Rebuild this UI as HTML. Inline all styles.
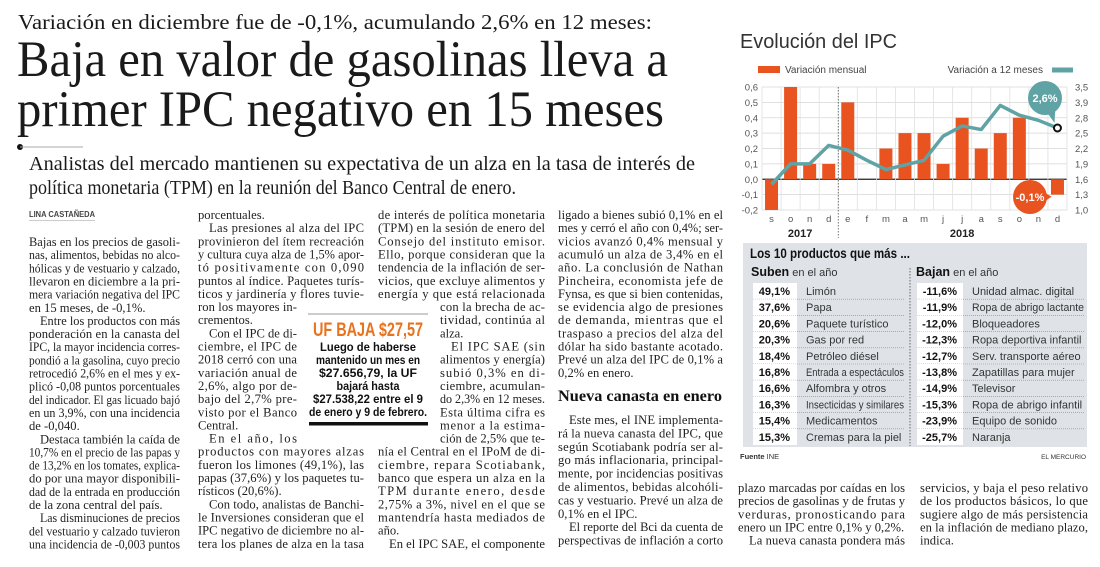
<!DOCTYPE html>
<html><head><meta charset="utf-8">
<style>
html,body{margin:0;padding:0;background:#fff;}
svg{display:block;}
.body{font-family:"Liberation Serif",serif;font-size:12.6px;fill:#222;}
.sans{font-family:"Liberation Sans",sans-serif;}
</style></head>
<body>
<svg id="page" width="1100" height="567" viewBox="0 0 1100 567" xmlns="http://www.w3.org/2000/svg">
<rect width="1100" height="567" fill="#fff"/>
<g font-family="Liberation Serif, serif" fill="#1a1a1a">
<text x="18" y="29" font-size="21" textLength="634" lengthAdjust="spacingAndGlyphs">Variación en diciembre fue de -0,1%, acumulando 2,6% en 12 meses:</text>
<text x="17" y="76" font-size="51" textLength="651" lengthAdjust="spacingAndGlyphs">Baja en valor de gasolinas lleva a</text>
<text x="17" y="126" font-size="51" textLength="647" lengthAdjust="spacingAndGlyphs">primer IPC negativo en 15 meses</text>
<circle cx="20" cy="147" r="3" fill="#111"/>
<line x1="20" y1="147" x2="83" y2="147" stroke="#aaa" stroke-width="1"/>
<text x="29" y="170" font-size="19.5" textLength="666" lengthAdjust="spacingAndGlyphs">Analistas del mercado mantienen su expectativa de un alza en la tasa de interés de</text>
<text x="29" y="194" font-size="19.5" textLength="487" lengthAdjust="spacingAndGlyphs">política monetaria (TPM) en la reunión del Banco Central de enero.</text>
<text x="29" y="217" font-family="Liberation Sans, sans-serif" font-size="8.5" font-weight="bold" fill="#444" textLength="66" lengthAdjust="spacingAndGlyphs">LINA CASTAÑEDA</text>
<line x1="29" y1="220.5" x2="95" y2="220.5" stroke="#bbb" stroke-width="0.8"/>
</g>
<g id="bodytext"></g>

<g>
<line x1="308" y1="314" x2="428" y2="314" stroke="#999" stroke-width="1"/>
<text x="313" y="336" font-family="Liberation Sans, sans-serif" font-weight="bold" font-size="19" fill="#e8731f" textLength="110" lengthAdjust="spacingAndGlyphs">UF BAJA $27,57</text>
<g font-family="Liberation Sans, sans-serif" font-weight="bold" font-size="11.5" fill="#111" text-anchor="middle">
<text x="368" y="351" textLength="96" lengthAdjust="spacingAndGlyphs">Luego de haberse</text>
<text x="368" y="364" textLength="104" lengthAdjust="spacingAndGlyphs">mantenido un mes en</text>
<text x="368" y="377" textLength="98" lengthAdjust="spacingAndGlyphs">$27.656,79, la UF</text>
<text x="368" y="390" textLength="63" lengthAdjust="spacingAndGlyphs">bajará hasta</text>
<text x="368" y="403" textLength="110" lengthAdjust="spacingAndGlyphs">$27.538,22 entre el 9</text>
<text x="368" y="416" textLength="118" lengthAdjust="spacingAndGlyphs">de enero y 9 de febrero.</text>
</g>
<rect x="309" y="422" width="119" height="3.5" fill="#111"/>
</g>

<text x="558" y="401" font-family="Liberation Serif, serif" font-weight="bold" font-size="16" fill="#111" textLength="164" lengthAdjust="spacingAndGlyphs">Nueva canasta en enero</text>

<!-- CHART -->
<g id="chart">
<text x="740" y="48" font-family="Liberation Sans, sans-serif" font-size="20" fill="#333" textLength="157" lengthAdjust="spacingAndGlyphs">Evolución del IPC</text>
<g font-family="Liberation Sans, sans-serif" font-size="10" fill="#444">
<rect x="758" y="66" width="22" height="7" fill="#e8531f"/>
<text x="785" y="73">Variación mensual</text>
<text x="1043" y="73" text-anchor="end">Variación a 12 meses</text>
<line x1="1052" y1="70" x2="1073" y2="70" stroke="#5fa3a5" stroke-width="5"/>
</g>
<g id="grid"></g>
<g id="bars"></g>
<g id="line"></g>
<g id="axes" font-family="Liberation Sans, sans-serif" font-size="9.5" fill="#555"></g>
<g id="bubbles"></g>
</g>

<!-- TABLE -->
<g id="table">
<rect x="743" y="243" width="344" height="204" fill="#dfe3e8"/>
<text x="750" y="258" font-family="Liberation Sans, sans-serif" font-weight="bold" font-size="13.5" fill="#111" textLength="160" lengthAdjust="spacingAndGlyphs">Los 10 productos que más ...</text>
<text x="751" y="276" font-family="Liberation Sans, sans-serif" font-size="11" fill="#333"><tspan font-weight="bold" font-size="12.5" fill="#111">Suben</tspan> en el año</text>
<text x="916" y="276" font-family="Liberation Sans, sans-serif" font-size="11" fill="#333"><tspan font-weight="bold" font-size="12.5" fill="#111">Bajan</tspan> en el año</text>
<line x1="910" y1="268" x2="910" y2="446" stroke="#666" stroke-width="1" stroke-dasharray="1.5,1.5"/>
<g id="rows" font-family="Liberation Sans, sans-serif" font-size="11" fill="#222"></g>
<text x="740" y="459" font-family="Liberation Sans, sans-serif" font-size="7.5" fill="#333"><tspan font-weight="bold">Fuente</tspan> INE</text>
<text x="1086" y="459" text-anchor="end" font-family="Liberation Sans, sans-serif" font-size="6.5" fill="#333">EL MERCURIO</text>
</g>
</svg>

<script>
// ---- chart data ----
var months = ["s","o","n","d","e","f","m","a","m","j","j","a","s","o","n","d"];
var yearLabels = ["2017","2018"];
var monthlyChange = [-0.2,0.6,0.1,0.1,0.5,0.0,0.2,0.3,0.3,0.1,0.4,0.2,0.3,0.4,0.0,-0.1];
var annualChange = [1.5,1.9,1.9,2.26,2.17,1.97,1.79,1.88,1.97,2.44,2.64,2.57,3.04,2.85,2.75,2.6];
var leftTicks = [-0.2,-0.1,0.0,0.1,0.2,0.3,0.4,0.5,0.6];
var leftTickLabels = ["-0,2","-0,1","0,0","0,1","0,2","0,3","0,4","0,5","0,6"];
var rightTicks = [1.0,1.3,1.6,1.9,2.2,2.5,2.8,3.1,3.4];
var rightTickLabels = ["1,0","1,3","1,6","1,9","2,2","2,5","2,8","3,9","3,5"];
var lastAnnualLabel = "2,6%";
var lastMonthlyLabel = "-0,1%";

var NS="http://www.w3.org/2000/svg";
function mk(tag, attrs, parent){var e=document.createElementNS(NS,tag);for(var k in attrs)e.setAttribute(k,attrs[k]);parent.appendChild(e);return e;}
var PL=762, PR=1067, PT=87, PB=210;
var colW=(PR-PL)/months.length;
function xC(i){return PL+(i+0.5)*colW;}
function yL(v){return PT+(0.6-v)/0.8*(PB-PT);}
function yR(v){return PB-(v-1.0)/2.4*(PB-PT);}

var grid=document.getElementById('grid');
leftTicks.forEach(function(t){
  var l=mk('line',{x1:PL,x2:PR,y1:yL(t),y2:yL(t),stroke:t===0?'#222':'#d6d6d6','stroke-width':t===0?1.2:0.8},grid);
  
  
});
for(var i=0;i<=months.length;i++){
  var gl=mk('line',{x1:PL+i*colW,x2:PL+i*colW,y1:PT,y2:PB,stroke:'#e0e0e0','stroke-width':0.8},grid);
  
  
}
var dv=mk('line',{x1:PL+4*colW,x2:PL+4*colW,y1:PT,y2:PB+28,stroke:'#555','stroke-width':0.8,'stroke-dasharray':'1.5,1.5'},grid);



var bars=document.getElementById('bars');
monthlyChange.forEach(function(v,i){
  var y0=yL(0), y1=yL(v);
  var r=mk('rect',{x:xC(i)-6.5,width:13,y:Math.min(y0,y1),height:Math.abs(y1-y0),fill:'#e8531f'},bars);
  
  
});
var lineG=document.getElementById('line');
var pts=annualChange.map(function(v,i){return xC(i)+','+yR(v);}).join(' ');
var pl=mk('polyline',{points:pts,fill:'none',stroke:'#5fa3a5','stroke-width':3.5,'stroke-linejoin':'round'},lineG);


var li=annualChange.length-1;
var lp=mk('circle',{cx:xC(li),cy:yR(annualChange[li]),r:3.5,fill:'#fff',stroke:'#111','stroke-width':2},lineG);



var axes=document.getElementById('axes');
leftTicks.forEach(function(t,i){
  var tx=mk('text',{x:PL-4,y:yL(t)+3.5,'text-anchor':'end'},axes);tx.textContent=leftTickLabels[i];
  
  
});
rightTicks.forEach(function(t,i){
  var tx=mk('text',{x:PR+8,y:yR(t)+3.5},axes);tx.textContent=rightTickLabels[i];
  
  
});
months.forEach(function(m,i){
  var tx=mk('text',{x:xC(i),y:PB+12,'text-anchor':'middle'},axes);tx.textContent=m;
  
  
});
[[1.5,0],[10,1]].forEach(function(p){
  var tx=mk('text',{x:xC(p[0]),y:PB+27,'text-anchor':'middle','font-weight':'bold','font-size':'11',fill:'#222'},axes);
  tx.textContent=yearLabels[p[1]];
  
  
});
var bub=document.getElementById('bubbles');
var bx=xC(li), by=yR(annualChange[li]);
var t1=mk('path',{d:'M'+(bx-12)+','+(by-18)+' L'+(bx-3)+','+(by-5)+' L'+(bx-2)+','+(by-22)+' Z',fill:'#5fa3a5'},bub);


var c1=mk('circle',{cx:1045,cy:98,r:17,fill:'#5fa3a5'},bub);


var c1t=mk('text',{x:1045,y:102,'text-anchor':'middle','font-family':'Liberation Sans, sans-serif','font-weight':'bold','font-size':'11',fill:'#fff'},bub);
c1t.textContent=lastAnnualLabel;


var mx=xC(li), my=yL(monthlyChange[li]);
var t2=mk('path',{d:'M1040,190 L'+(mx-6)+','+(my+2)+' L1044,202 Z',fill:'#e8531f'},bub);


var c2=mk('circle',{cx:1030,cy:197,r:17,fill:'#e8531f'},bub);


var c2t=mk('text',{x:1030,y:201,'text-anchor':'middle','font-family':'Liberation Sans, sans-serif','font-weight':'bold','font-size':'11',fill:'#fff'},bub);
c2t.textContent=lastMonthlyLabel;



// ---- table data ----
var upValues=["49,1%","37,6%","20,6%","20,3%","18,4%","16,8%","16,6%","16,3%","15,4%","15,3%"];
var upNames=["Limón","Papa","Paquete turístico","Gas por red","Petróleo diésel","Entrada a espectáculos","Alfombra y otros","Insecticidas y similares","Medicamentos","Cremas para la piel"];
var downValues=["-11,6%","-11,9%","-12,0%","-12,3%","-12,7%","-13,8%","-14,9%","-15,3%","-23,9%","-25,7%"];
var downNames=["Unidad almac. digital","Ropa de abrigo lactante","Bloqueadores","Ropa deportiva infantil","Serv. transporte aéreo","Zapatillas para mujer","Televisor","Ropa de abrigo infantil","Equipo de sonido","Naranja"];
var rows=document.getElementById('rows');
var RT=283, RH=16.2;
for(var r=0;r<10;r++){
  var y=RT+r*RH;
  var w1=mk('rect',{x:753,y:y,width:44,height:RH,fill:'#fff'},rows);
  
  
  var w2=mk('rect',{x:917,y:y,width:46,height:RH,fill:'#fff'},rows);
  
  
  if(r<9){
    var s1=mk('line',{x1:753,x2:905,y1:y+RH,y2:y+RH,stroke:'#888','stroke-width':0.6,'stroke-dasharray':'1,1'},rows);
    
    
    var s2=mk('line',{x1:917,x2:1085,y1:y+RH,y2:y+RH,stroke:'#888','stroke-width':0.6,'stroke-dasharray':'1,1'},rows);
    
    
  }
  var a=mk('text',{x:790,y:y+12,'text-anchor':'end','font-weight':'bold',fill:'#111'},rows);a.textContent=upValues[r];
  
  
  var b=mk('text',{x:806,y:y+12,fill:'#333'},rows);b.textContent=upNames[r];
  
  
  var c=mk('text',{x:957,y:y+12,'text-anchor':'end','font-weight':'bold',fill:'#111'},rows);c.textContent=downValues[r];
  
  
  var d=mk('text',{x:972,y:y+12,fill:'#333'},rows);d.textContent=downNames[r];
  
  
}
// shrink long names to fit
Array.prototype.forEach.call(rows.querySelectorAll('text'),function(t){
  var max = t.getAttribute('x')==='806'?98:(t.getAttribute('x')==='972'?112:0);
  if(max && t.getComputedTextLength()>max){t.setAttribute('textLength',max);t.setAttribute('lengthAdjust','spacingAndGlyphs');}
});

// ---- body text ----
// "^" = paragraph indent, "|" at end = last line of paragraph (not justified)
var blocks=[
 {x:29,w:151,y0:246,lines:[
 "Bajas en los precios de gasoli-","nas, alimentos, bebidas no alco-","hólicas y de vestuario y calzado,","llevaron en diciembre a la pri-","mera variación negativa del IPC","en 15 meses, de -0,1%.|",
 "^Entre los productos con más","ponderación en la canasta del","IPC, la mayor incidencia corres-","pondió a la gasolina, cuyo precio","retrocedió 2,6% en el mes y ex-","plicó -0,08 puntos porcentuales","del indicador. El gas licuado bajó","en un 3,9%, con una incidencia","de -0,040.|",
 "^Destaca también la caída de","10,7% en el precio de las papas y","de 13,2% en los tomates, explica-","do por una mayor disponibili-","dad de la entrada en producción","de la zona central del país.|",
 "^Las disminuciones de precios","del vestuario y calzado tuvieron","una incidencia de -0,003 puntos"]},
 {x:198,w:166,y0:219,nar:[7,17],nx:198,nw:99,lines:[
 "porcentuales.|","^Las presiones al alza del IPC","provinieron del ítem recreación","y cultura cuya alza de 1,5% apor-","tó positivamente con 0,090","puntos al índice. Paquetes turís-","ticos y jardinería y flores tuvie-",
 "ron los mayores in-","crementos.|","^Con el IPC de di-","ciembre, el IPC de","2018 cerró con una","variación anual de","2,6%, algo por de-","bajo del 2,7% pre-","visto por el Banco","Central.|","^En el año, los",
 "productos con mayores alzas","fueron los limones (49,1%), las","papas (37,6%) y los paquetes tu-","rísticos (20,6%).|","^Con todo, analistas de Banchi-","le Inversiones consideran que el","IPC negativo de diciembre no al-","tera los planes de alza en la tasa"]},
 {x:378,w:167,y0:219,nar:[7,17],nx:440,nw:105,lines:[
 "de interés de política monetaria","(TPM) en la sesión de enero del","Consejo del instituto emisor.","Ello, porque consideran que la","tendencia de la inflación de ser-","vicios, que excluye alimentos y","energía y que está relacionada",
 "con la brecha de ac-","tividad, continúa al","alza.|","^El IPC SAE (sin","alimentos y energía)","subió 0,3% en di-","ciembre, acumulan-","do 2,3% en 12 meses.","Esta última cifra es","menor a la estima-","ción de 2,5% que te-",
 "nía el Central en el IPoM de di-","ciembre, repara Scotiabank,","banco que espera un alza en la","TPM durante enero, desde","2,75% a 3%, nivel en el que se","mantendría hasta mediados de","año.|","^En el IPC SAE, el componente"]},
 {x:558,w:165,y0:219,lines:[
 "ligado a bienes subió 0,1% en el","mes y cerró el año con 0,4%; ser-","vicios avanzó 0,4% mensual y","acumuló un alza de 3,4% en el","año. La conclusión de Nathan","Pincheira, economista jefe de","Fynsa, es que si bien contenidas,","se evidencia algo de presiones","de demanda, mientras que el","traspaso a precios del alza del","dólar ha sido bastante acotado.","Prevé un alza del IPC de 0,1% a","0,2% en enero.|"]},
 {x:558,w:165,y0:424,lh:13.4,lines:[
 "^Este mes, el INE implementa-","rá la nueva canasta del IPC, que","según Scotiabank podría ser al-","go más inflacionaria, principal-","mente, por incidencias positivas","de alimentos, bebidas alcohóli-","cas y vestuario. Prevé un alza de","0,1% en el IPC.|","^El reporte del Bci da cuenta de","perspectivas de inflación a corto"]},
 {x:738,w:167,y0:492,lines:[
 "plazo marcadas por caídas en los","precios de gasolinas y de frutas y","verduras, pronosticando para","enero un IPC entre 0,1% y 0,2%.|","^La nueva canasta pondera más"]},
 {x:920,w:168,y0:492,lines:[
 "servicios, y baja el peso relativo","de los productos básicos, lo que","sugiere algo de más persistencia","en la inflación de mediano plazo,","indica.|"]}
];
var bodyG=document.getElementById('bodytext');
blocks.forEach(function(b,bi){
  var lh=b.lh||13.15;
  b.lines.forEach(function(s,i){
    var x=b.x,w=b.w;
    if(b.nar && i>=b.nar[0] && i<=b.nar[1]){x=b.nx;w=b.nw;}
    var indent=0,end=false;
    if(s.charAt(0)==='^'){indent=11;s=s.slice(1);}
    if(s.charAt(s.length-1)==='|'){end=true;s=s.slice(0,-1);}
    var t=mk('text',{x:x+indent,y:b.y0+i*lh,'class':'body'},bodyG);
    t.textContent=s;
    
    
    var target=w-indent, len=t.getComputedTextLength();
    if(!end || len>target){t.setAttribute('textLength',target);t.setAttribute('lengthAdjust', len>target?'spacingAndGlyphs':'spacing');}
  });
});
</script>
</body></html>
